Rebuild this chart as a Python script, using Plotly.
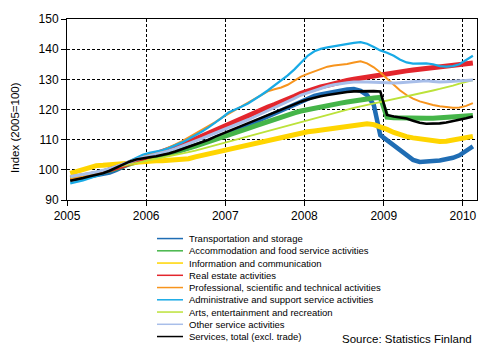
import pandas as pd
import plotly.graph_objects as go

# Monthly index values, Jan 2005 - Feb 2010 (2005=100)
months = pd.date_range("2005-01-01", periods=62, freq="MS") + pd.Timedelta(days=15)

transport = [96.8, 97.0, 97.4, 97.9, 98.3, 98.6, 99.1, 100.0, 101.1, 102.2, 103.1, 103.8,
             104.2, 104.5, 104.8, 105.2, 105.8, 106.5, 107.2, 107.9, 108.7, 109.6, 110.5, 111.3,
             112.1, 112.9, 113.8, 114.8, 115.8, 116.8, 117.8, 118.8, 119.8, 120.8, 121.7, 122.8,
             123.9, 124.5, 125.0, 125.5, 125.9, 126.3, 126.6, 126.8, 126.2, 124.8, 121.5, 111.5,
             109.8, 108.0, 106.3, 104.6, 103.3, 102.6, 102.6, 102.9, 103.1, 103.4, 104.0, 104.8,
             106.2, 107.8]
accommodation = [97.0, 97.3, 97.7, 98.2, 98.7, 99.2, 99.8, 100.5, 101.3, 102.0, 102.7, 103.3,
                 103.8, 104.2, 104.7, 105.2, 105.8, 106.5, 107.2, 107.9, 108.6, 109.3, 110.0, 110.7,
                 111.4, 112.1, 112.9, 113.7, 114.5, 115.3, 116.1, 116.9, 117.6, 118.3, 118.9, 119.5,
                 120.0, 120.5, 120.9, 121.3, 121.7, 122.1, 122.5, 122.9, 123.3, 123.6, 123.8, 124.0,
                 117.5, 117.3, 117.2, 117.2, 117.1, 117.1, 117.1, 117.1, 117.2, 117.2, 117.3, 117.4,
                 117.6, 118.0]
information = [98.8, 99.5, 100.4, 101.1, 101.4, 101.5, 101.6, 101.7, 101.9, 102.2, 102.5, 102.8,
               102.9, 103.0, 103.0, 103.1, 103.2, 103.4, 103.7, 104.3, 104.8, 105.2, 105.6, 106.1,
               106.6, 107.1, 107.7, 108.3, 108.9, 109.4, 109.8, 110.1, 110.5, 111.0, 111.6, 112.2,
               112.6, 112.9, 113.2, 113.5, 113.8, 114.1, 114.5, 114.9, 115.2, 115.3, 115.0, 114.3,
               113.4, 112.4, 111.6, 111.0, 110.6, 110.2, 109.8, 109.5, 109.4, 109.5, 109.8, 110.1,
               110.6, 111.1]
real_estate = [97.3, 97.6, 98.0, 98.4, 98.8, 99.3, 99.9, 100.6, 101.4, 102.2, 103.0, 103.8,
               104.5, 105.1, 105.8, 106.6, 107.4, 108.3, 109.2, 110.2, 111.2, 112.2, 113.2, 114.2,
               115.2, 116.2, 117.2, 118.1, 119.0, 119.9, 120.8, 121.6, 122.4, 123.4, 124.4, 125.4,
               126.2, 126.9, 127.5, 128.0, 128.6, 129.1, 129.6, 130.0, 130.4, 130.8, 131.2, 131.6,
               131.9, 132.2, 132.5, 132.8, 133.1, 133.4, 133.7, 134.0, 134.2, 134.4, 134.6, 134.9,
               135.1, 135.4]
professional = [97.0, 97.4, 97.9, 98.4, 98.9, 99.5, 100.3, 101.2, 102.1, 103.0, 103.8, 104.5,
                105.0, 105.6, 106.4, 107.3, 108.4, 109.5, 110.7, 111.9, 113.1, 114.4, 115.8, 117.3,
                118.6, 119.8, 121.0, 122.2, 123.6, 125.0, 126.0, 126.7, 127.3, 128.2, 129.5, 130.9,
                131.8, 132.6, 133.4, 134.2, 134.6, 134.8, 135.1, 135.6, 136.0, 135.3, 134.0, 132.3,
                130.3, 128.3, 126.4, 124.8, 123.6, 122.7, 122.0, 121.5, 121.1, 120.8, 120.6, 120.7,
                121.2, 122.1]
administrative = [95.5, 95.9, 96.5, 97.2, 97.9, 98.7, 99.7, 100.8, 101.9, 103.0, 104.0, 105.0,
                  105.6, 106.0, 106.5, 107.2, 108.1, 109.1, 110.2, 111.4, 112.7, 114.1, 115.6, 117.2,
                  119.0, 119.9, 120.9, 122.0, 123.3, 124.8, 126.3, 127.9, 129.5, 131.3, 133.3, 135.5,
                  137.8, 139.3, 140.1, 140.6, 141.0, 141.2, 141.6, 142.1, 142.3, 141.8, 140.7, 139.6,
                  138.8, 137.8, 136.6, 135.6, 135.2, 135.2, 135.3, 135.0, 134.4, 134.2, 134.4, 135.0,
                  136.3, 137.8]
arts = [97.5, 97.9, 98.4, 98.9, 99.4, 99.9, 100.4, 100.9, 101.4, 101.9, 102.4, 102.8,
        103.2, 103.6, 104.0, 104.4, 104.9, 105.4, 105.9, 106.4, 107.0, 107.6, 108.2, 108.8,
        109.4, 109.9, 110.5, 111.1, 111.7, 112.3, 112.9, 113.5, 114.1, 114.7, 115.3, 115.9,
        116.5, 117.1, 117.7, 118.2, 118.8, 119.4, 119.9, 120.5, 121.0, 121.5, 122.0, 122.5,
        122.9, 123.3, 123.8, 124.3, 124.8, 125.3, 125.8, 126.3, 126.8, 127.3, 127.9, 128.6,
        129.2, 129.7]
other = [97.8, 98.1, 98.5, 98.9, 99.3, 99.8, 100.4, 101.1, 101.9, 102.7, 103.4, 104.1,
         104.6, 105.1, 105.7, 106.3, 107.0, 107.8, 108.6, 109.5, 110.4, 111.3, 112.2, 113.0,
         113.8, 114.7, 115.6, 116.6, 117.6, 118.6, 119.6, 120.6, 121.6, 122.6, 123.7, 124.8,
         125.6, 126.4, 127.1, 127.7, 128.2, 128.6, 128.9, 129.1, 129.2, 129.1, 129.0, 128.9,
         128.8, 128.8, 128.9, 129.1, 129.3, 129.5, 129.5, 129.3, 129.1, 129.2, 129.4, 129.6,
         129.7, 129.8]
services_total = [96.4, 96.8, 97.3, 97.9, 98.4, 98.9, 99.7, 100.7, 101.8, 102.7, 103.4, 103.9,
                  104.2, 104.5, 104.9, 105.4, 106.1, 106.9, 107.6, 108.3, 109.1, 110.0, 111.0, 111.9,
                  112.8, 113.7, 114.6, 115.5, 116.4, 117.3, 118.2, 119.1, 120.0, 120.9, 121.8, 122.6,
                  123.3, 123.9, 124.4, 124.8, 125.2, 125.5, 125.8, 126.0, 126.1, 126.1, 126.1, 126.0,
                  118.2, 117.7, 117.3, 117.0, 116.3, 115.6, 115.3, 115.3, 115.4, 115.7, 116.1, 116.6,
                  117.1, 117.7]

names = ["Transportation and storage",
         "Accommodation and food service activities",
         "Information and communication",
         "Real estate activities",
         "Professional, scientific and technical activities",
         "Administrative and support service activities",
         "Arts, entertainment and recreation",
         "Other service activities",
         "Services, total (excl. trade)"]
series = [transport, accommodation, information, real_estate, professional,
          administrative, arts, other, services_total]
colors = ["#1f6db4", "#45b549", "#ffd500", "#e3262d", "#f7941d",
          "#18aae6", "#bce23a", "#a8bee9", "#000000"]
widths = [4.5, 5, 5, 5, 2, 2.2, 1.8, 3, 2.6]

year_ticks = ["2005", "2006", "2007", "2008", "2009", "2010"]
y_ticks = [90, 100, 110, 120, 130, 140, 150]

FONT = "Liberation Sans, Arial, sans-serif"

fig = go.Figure()
for name, vals, col, w in zip(names, series, colors, widths):
    fig.add_trace(go.Scatter(x=months, y=vals, mode="lines", name=name,
                             line=dict(color=col, width=w), showlegend=False))

# Manual legend (compact spacing like the reference)
W, H = 498, 357
ml, mr, mt, mb = 67, 21, 16, 157
pw, ph = W - ml - mr, H - mt - mb
shapes = []
annotations = []
for i, (name, col) in enumerate(zip(names, colors)):
    ypx = 239.2 + i * 12.45
    yp = (mt + ph - ypx) / ph
    shapes.append(dict(type="line", xref="paper", yref="paper",
                       x0=(157 - ml) / pw, x1=(183 - ml) / pw, y0=yp, y1=yp,
                       line=dict(color=col, width=1.5)))
    annotations.append(dict(text=name, xref="paper", yref="paper",
                            x=(187 - ml) / pw, y=yp, xanchor="left", yanchor="middle",
                            showarrow=False, font=dict(size=9.5, color="black", family=FONT)))

annotations.append(dict(text="Source: Statistics Finland", xref="paper", yref="paper",
                        x=(474 - ml) / pw, y=(mt + ph - 341.7) / ph,
                        xanchor="right", yanchor="middle", showarrow=False,
                        font=dict(size=11.5, color="black", family=FONT)))
annotations.append(dict(text="Index (2005=100)", xref="paper", yref="paper",
                        x=(15 - ml) / pw, y=(mt + ph - 126.7) / ph,
                        xanchor="center", yanchor="middle", textangle=-90, showarrow=False,
                        font=dict(size=11.5, color="black", family=FONT)))

fig.update_layout(
    width=W, height=H, autosize=False,
    margin=dict(l=ml, r=mr, t=mt, b=mb),
    paper_bgcolor="white", plot_bgcolor="white",
    font=dict(family=FONT, size=12, color="black"),
    shapes=shapes, annotations=annotations,
    showlegend=False,
)
fig.update_xaxes(
    type="date",
    range=["2005-01-01", "2010-03-07"],
    tickvals=[y + "-01-01" for y in year_ticks], ticktext=year_ticks,
    showline=True, linecolor="black", linewidth=1, mirror=True,
    ticks="outside", ticklen=5, tickcolor="black",
    showgrid=True, gridcolor="black", gridwidth=1, griddash="3px,2px",
    tickfont=dict(size=12), zeroline=False,
)
fig.update_yaxes(
    range=[90, 150], tickvals=y_ticks,
    showline=True, linecolor="black", linewidth=1, mirror=True,
    ticks="outside", ticklen=5, tickcolor="black",
    showgrid=True, gridcolor="black", gridwidth=1, griddash="3px,2px",
    tickfont=dict(size=12), zeroline=False,
)

fig.write_html("out.html", config={"displayModeBar": False},
               post_script="document.body.style.margin='0';document.body.style.padding='0';")
